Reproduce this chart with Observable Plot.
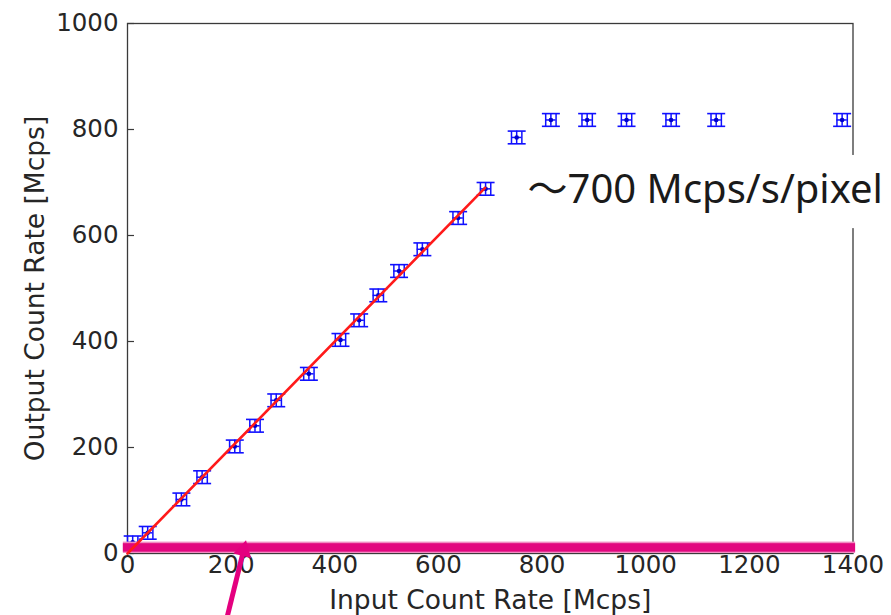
<!DOCTYPE html>
<html><head><meta charset="utf-8">
<script src="https://cdn.jsdelivr.net/npm/d3@7"></script>
<script src="https://cdn.jsdelivr.net/npm/@observablehq/plot@0.6"></script>
<style>
html,body{margin:0;padding:0;background:#fff;}
</style></head><body><div id="chart"></div>
<script>
// ---- data ----
const inputRate  = [10, 39, 104, 144, 207, 246, 287, 350, 411, 447, 484, 524, 569, 638, 691, 751, 817, 887, 963, 1049, 1136, 1379];
const outputRate = [21, 39, 102, 144, 202, 241, 289, 339, 403, 440, 487, 533, 574, 633, 688, 785, 818, 818, 818, 818, 818, 818];
const inputErr   = [10, 10, 10, 10, 10, 10, 10, 10, 10, 10, 10, 10, 10, 10, 10, 10, 10, 10, 10, 10, 10, 10];
const outputErr  = [12, 12, 12, 12, 12, 12, 12, 12, 12, 12, 12, 12, 12, 12, 12, 12, 12, 12, 12, 12, 12, 12];
const fitX = [0, 690];
const fitY = [0, 690];
const xTicks = [0, 200, 400, 600, 800, 1000, 1200, 1400];
const yTicks = [0, 200, 400, 600, 800, 1000];
const xLabel = "Input Count Rate [Mcps]";
const yLabel = "Output Count Rate [Mcps]";
const noteText = "～700 Mcps/s/pixel";
const noteAt = [772, 685];
const noteBox = [757, 1480, 613, 751];
const bandRange = [0, 21.5];
const bandCore = [2.5, 18.5];
const arrowFrom = [191, -125];
const arrowTo = [228, 22];

// ---- tables ----
const pts = inputRate.map((x, i) => ({x, y: outputRate[i], xe: inputErr[i], ye: outputErr[i]}));
const fit = fitX.map((x, i) => ({x, y: fitY[i]}));

const hline = {draw(ctx, size) { const r = Math.sqrt(size / Math.PI); ctx.moveTo(-r, 0); ctx.lineTo(r, 0); }};
const vline = {draw(ctx, size) { const r = Math.sqrt(size / Math.PI); ctx.moveTo(0, -r); ctx.lineTo(0, r); }};

const W = 891, H = 615, mT = 23, mB = 62, mL = 127, mR = 38.5;
const plotH = H - mT - mB, plotW = W - mL - mR;
const blue = "#1010ff";
const axisColor = "#3a3a3a";
const fmt = d3.format("d");

// arrow head orientation, in screen pixels
const kx = plotW / 1400, ky = plotH / 1000;
const vx = (arrowTo[0] - arrowFrom[0]) * kx, vy = -(arrowTo[1] - arrowFrom[1]) * ky;
const vl = Math.hypot(vx, vy);
const ux = vx / vl, uy = vy / vl;
const headAngle = Math.atan2(ux, -uy) * 180 / Math.PI;
const headBack = 9;

const chart = Plot.plot({
  width: W, height: H,
  marginTop: mT, marginBottom: mB, marginLeft: mL, marginRight: mR,
  style: {fontFamily: "DejaVu Sans", color: "#262626", background: "#fff", overflow: "visible"},
  x: {domain: [0, 1400]},
  y: {domain: [0, 1000]},
  marks: [
    Plot.frame({stroke: axisColor, strokeWidth: 1.3}),
    Plot.tickX(xTicks, {x: d => d, stroke: axisColor, strokeWidth: 1.2, insetTop: plotH - 7}),
    Plot.tickY(yTicks, {y: d => d, stroke: axisColor, strokeWidth: 1.2, insetRight: plotW - 7}),
    Plot.axisX({ticks: xTicks, tickSize: 0, tickPadding: 2, fontSize: 24.5, tickFormat: fmt, label: null}),
    Plot.axisY({ticks: yTicks, tickSize: 0, tickPadding: 9, fontSize: 24.5, tickFormat: fmt, label: null}),
    Plot.text([xLabel], {frameAnchor: "bottom", dy: 47, fontSize: 26.5, fill: "#262626", textAnchor: "middle", lineAnchor: "middle"}),
    Plot.text([yLabel], {frameAnchor: "left", dx: -92, rotate: -90, fontSize: 26.5, fill: "#262626", textAnchor: "middle", lineAnchor: "middle"}),
    // error bars
    Plot.ruleX(pts, {x: "x", y1: d => d.y - d.ye, y2: d => d.y + d.ye, stroke: blue, strokeWidth: 1.5}),
    Plot.ruleY(pts, {y: "y", x1: d => d.x - d.xe, x2: d => d.x + d.xe, stroke: blue, strokeWidth: 1.5}),
    Plot.dot(pts, {x: "x", y: d => d.y + d.ye, symbol: hline, r: 9, fill: "none", stroke: blue, strokeWidth: 1.6}),
    Plot.dot(pts, {x: "x", y: d => d.y - d.ye, symbol: hline, r: 9, fill: "none", stroke: blue, strokeWidth: 1.6}),
    Plot.dot(pts, {x: d => d.x - d.xe, y: "y", symbol: vline, r: 6.3, fill: "none", stroke: blue, strokeWidth: 1.5}),
    Plot.dot(pts, {x: d => d.x + d.xe, y: "y", symbol: vline, r: 6.3, fill: "none", stroke: blue, strokeWidth: 1.5}),
    Plot.dot(pts, {x: "x", y: "y", r: 2.3, fill: "#0000cc", stroke: "none"}),
    // magenta band
    Plot.rect([bandRange], {x1: -8, x2: 1405, y1: d => d[0], y2: d => d[1], fill: "#f08cc2"}),
    Plot.rect([bandCore], {x1: -8, x2: 1405, y1: d => d[0], y2: d => d[1], fill: "#e2067f"}),
    // fit line
    Plot.line(fit, {x: "x", y: "y", stroke: "#ff1a1a", strokeWidth: 2.6}),
    // annotation
    Plot.rect([noteBox], {x1: d => d[0], x2: d => d[1], y1: d => d[2], y2: d => d[3], fill: "white"}),
    Plot.text([noteText], {x: () => noteAt[0], y: () => noteAt[1], textAnchor: "start", fontSize: 40, fill: "#1a1a1a", fontFamily: "'Noto Sans', 'Noto Sans CJK JP', sans-serif"}),
    // arrow: shaft + filled head
    Plot.link([0], {x1: () => arrowFrom[0], y1: () => arrowFrom[1], x2: () => arrowTo[0], y2: () => arrowTo[1], stroke: "#e4007f", strokeWidth: 5, dx: -ux * headBack, dy: -uy * headBack}),
    Plot.dot([0], {x: () => arrowTo[0], y: () => arrowTo[1], symbol: "triangle", r: 6.8, fill: "#e4007f", stroke: "none", rotate: headAngle, dx: -ux * headBack, dy: -uy * headBack})
  ]
});
document.getElementById("chart").appendChild(chart);
</script>
</body></html>
